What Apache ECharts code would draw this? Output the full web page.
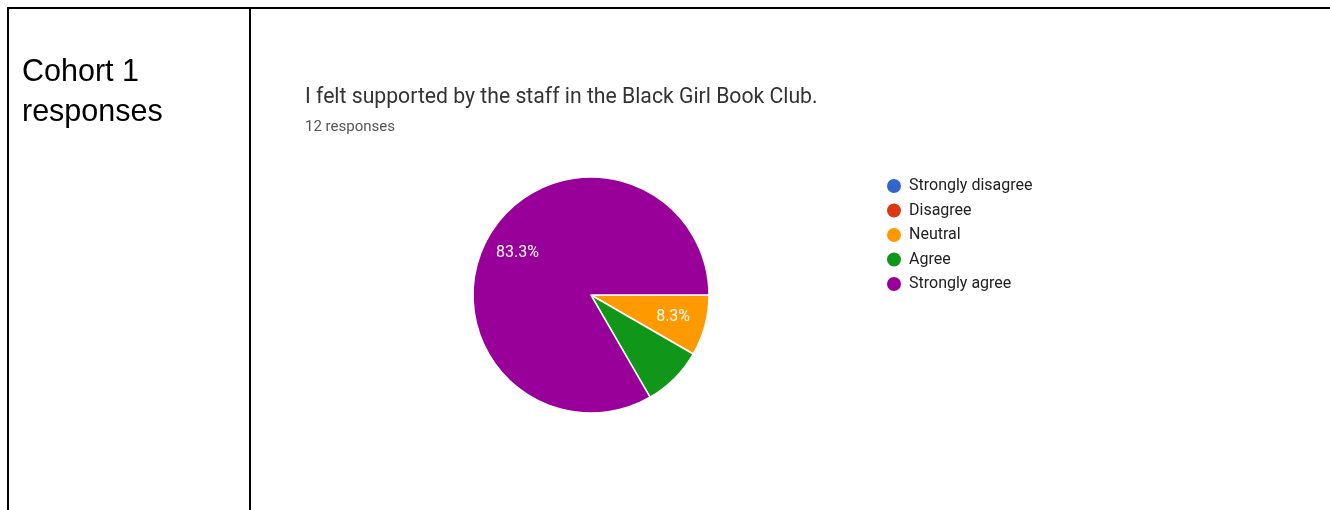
<!DOCTYPE html>
<html>
<head>
<meta charset="utf-8">
<script src="https://cdn.jsdelivr.net/npm/echarts@6/dist/echarts.min.js"></script>
<style>
html,body{margin:0;padding:0;background:#fff;}
#c{width:1330px;height:510px;}
</style>
</head>
<body>
<div id="c"></div>
<script>
var categories = ['Strongly disagree', 'Disagree', 'Neutral', 'Agree', 'Strongly agree'];
var counts = [0, 0, 1, 1, 10];
var showLabel = [false, false, true, false, true];
var colors = ['#3366cc', '#dc3912', '#ff9900', '#109618', '#990099'];
var titleText = 'I felt supported by the staff in the Black Girl Book Club.';
var subText = '12 responses';
var rowLabel = ['Cohort 1', 'responses'];

var chart = echarts.init(document.getElementById('c'), null, {renderer: 'canvas'});

var sliceData = categories.map(function (n, i) {
  return {name: n, value: counts[i], itemStyle: {color: colors[i]}};
});
var labelData = categories.map(function (n, i) {
  return {name: n, value: counts[i], label: {show: showLabel[i]}};
});

var option = {
  animation: false,
  color: colors,
  legend: {
    orient: 'vertical',
    left: 885,
    top: 177,
    padding: 0,
    icon: 'circle',
    itemWidth: 16,
    itemHeight: 16,
    itemGap: 6.5,
    data: categories,
    textStyle: {fontFamily: 'Roboto', fontSize: 16, lineHeight: 16, color: '#222', padding: [0, 0, 0, 2]},
    selectedMode: false
  },
  graphic: [
    {type: 'line', shape: {x1: 7, y1: 8, x2: 1330, y2: 8}, style: {stroke: '#000', lineWidth: 2}},
    {type: 'line', shape: {x1: 8, y1: 7, x2: 8, y2: 510}, style: {stroke: '#000', lineWidth: 2}},
    {type: 'line', shape: {x1: 250, y1: 7, x2: 250, y2: 510}, style: {stroke: '#000', lineWidth: 2}},
    {type: 'text', x: 22, y: 72.5, style: {text: rowLabel[0], font: '30.5px "Liberation Sans", Arial, sans-serif', fill: '#000', verticalAlign: 'middle'}},
    {type: 'text', x: 22, y: 112.5, style: {text: rowLabel[1], font: '30.5px "Liberation Sans", Arial, sans-serif', fill: '#000', verticalAlign: 'middle'}},
    {type: 'text', x: 305, y: 98, style: {text: titleText, font: '21.2px Roboto', fill: '#333', verticalAlign: 'middle'}},
    {type: 'text', x: 305, y: 127, style: {text: subText, font: '15px Roboto', fill: '#555', verticalAlign: 'middle'}}
  ],
  series: [
    {
      type: 'pie',
      center: [591, 295],
      radius: [0, 118],
      startAngle: 0,
      clockwise: true,
      avoidLabelOverlap: false,
      silent: true,
      label: {show: false},
      labelLine: {show: false},
      itemStyle: {borderColor: '#fff', borderWidth: 1.5},
      data: sliceData
    },
    {
      type: 'pie',
      center: [591, 295],
      radius: [46, 118],
      startAngle: 0,
      clockwise: true,
      avoidLabelOverlap: false,
      silent: true,
      itemStyle: {color: 'rgba(0,0,0,0)', borderWidth: 0},
      label: {
        show: true,
        position: 'inside',
        formatter: function (p) { return p.percent.toFixed(1) + '%'; },
        color: '#fff',
        fontFamily: 'Roboto',
        fontSize: 16,
        textBorderWidth: 0
      },
      labelLine: {show: false},
      data: labelData
    }
  ]
};
chart.setOption(option);
</script>
</body>
</html>
